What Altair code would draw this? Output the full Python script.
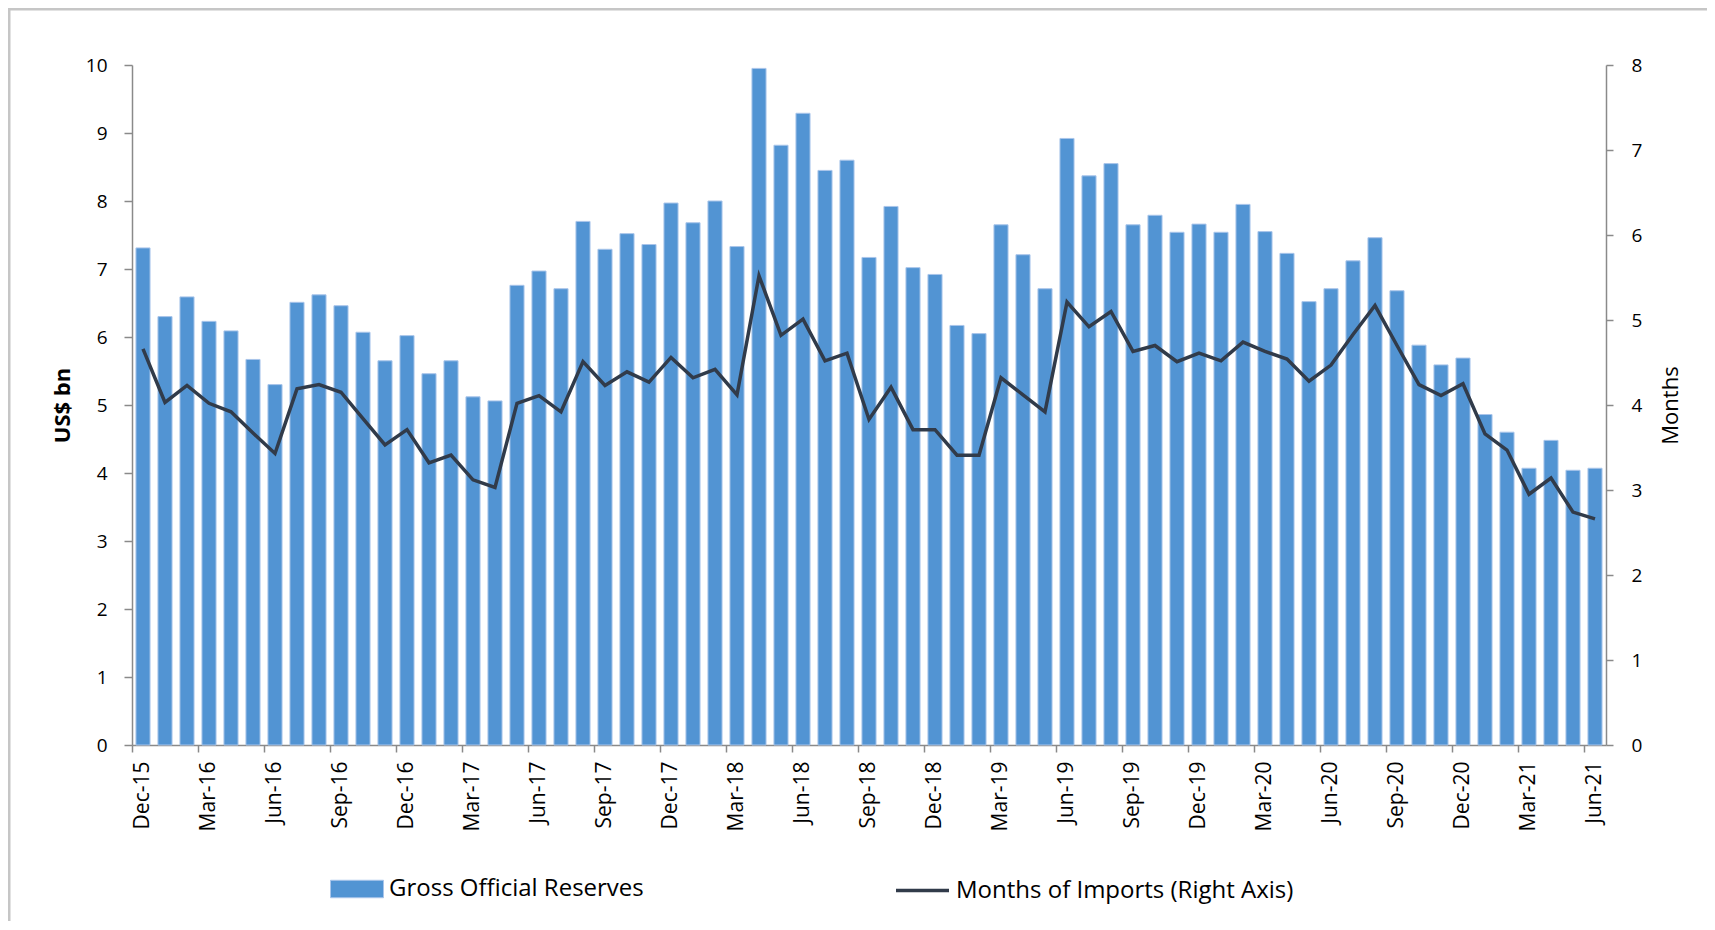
import altair as alt
import pandas as pd

MONTHS = [
    "Dec-15",
    "Jan-16", "Feb-16", "Mar-16", "Apr-16", "May-16", "Jun-16",
    "Jul-16", "Aug-16", "Sep-16", "Oct-16", "Nov-16", "Dec-16",
    "Jan-17", "Feb-17", "Mar-17", "Apr-17", "May-17", "Jun-17",
    "Jul-17", "Aug-17", "Sep-17", "Oct-17", "Nov-17", "Dec-17",
    "Jan-18", "Feb-18", "Mar-18", "Apr-18", "May-18", "Jun-18",
    "Jul-18", "Aug-18", "Sep-18", "Oct-18", "Nov-18", "Dec-18",
    "Jan-19", "Feb-19", "Mar-19", "Apr-19", "May-19", "Jun-19",
    "Jul-19", "Aug-19", "Sep-19", "Oct-19", "Nov-19", "Dec-19",
    "Jan-20", "Feb-20", "Mar-20", "Apr-20", "May-20", "Jun-20",
    "Jul-20", "Aug-20", "Sep-20", "Oct-20", "Nov-20", "Dec-20",
    "Jan-21", "Feb-21", "Mar-21", "Apr-21", "May-21", "Jun-21",
]

TICK_LABELS = [
    "Dec-15", "Mar-16", "Jun-16", "Sep-16", "Dec-16", "Mar-17", "Jun-17",
    "Sep-17", "Dec-17", "Mar-18", "Jun-18", "Sep-18", "Dec-18", "Mar-19",
    "Jun-19", "Sep-19", "Dec-19", "Mar-20", "Jun-20", "Sep-20", "Dec-20",
    "Mar-21", "Jun-21",
]

# Gross Official Reserves, US$ bn
RESERVES = [
    7.31,
    6.30, 6.59, 6.23, 6.09, 5.67, 5.30, 6.51, 6.62, 6.46, 6.07, 5.65, 6.02,
    5.46, 5.65, 5.12, 5.06, 6.76, 6.97, 6.71, 7.70, 7.29, 7.52, 7.36, 7.97,
    7.68, 8.00, 7.33, 9.95, 8.82, 9.29, 8.45, 8.60, 7.17, 7.92, 7.02, 6.92,
    6.17, 6.05, 7.65, 7.21, 6.71, 8.92, 8.37, 8.55, 7.65, 7.79, 7.54, 7.66,
    7.54, 7.95, 7.55, 7.23, 6.52, 6.71, 7.12, 7.46, 6.68, 5.88, 5.59, 5.69,
    4.86, 4.60, 4.07, 4.48, 4.04, 4.07,
]

# Months of imports (right axis)
IMPORT_MONTHS = [
    4.66,
    4.03, 4.23, 4.02, 3.92, 3.67, 3.43, 4.19, 4.24, 4.15, 3.84, 3.53, 3.71,
    3.32, 3.41, 3.12, 3.03, 4.02, 4.11, 3.92, 4.51, 4.23, 4.39, 4.27, 4.56,
    4.32, 4.42, 4.12, 5.52, 4.82, 5.01, 4.52, 4.61, 3.83, 4.21, 3.71, 3.71,
    3.41, 3.41, 4.32, 4.12, 3.92, 5.21, 4.92, 5.10, 4.63, 4.70, 4.51, 4.61,
    4.52, 4.74, 4.63, 4.54, 4.28, 4.47, 4.83, 5.17, 4.70, 4.24, 4.11, 4.25,
    3.66, 3.47, 2.95, 3.14, 2.74, 2.66,
]

BAR_SERIES = "Gross Official Reserves"
LINE_SERIES = "Months of Imports (Right Axis)"

df = pd.DataFrame({
    "month": MONTHS,
    "reserves": RESERVES,
    "imports": IMPORT_MONTHS,
    "bar_series": [BAR_SERIES] * len(MONTHS),
    "line_series": [LINE_SERIES] * len(MONTHS),
})

FONT = "Open Sans"
AXIS_GREY = "#8a8a8a"
BAR_FILL = "#5294d3"
BAR_EDGE = "#a9c5ea"
LINE_COLOR = "#313b4a"

W, H = 1474, 680

x_enc = alt.X(
    "month:N",
    sort=MONTHS,
    scale=alt.Scale(paddingInner=0, paddingOuter=0),
    axis=alt.Axis(
        values=TICK_LABELS,
        bandPosition=0,
        labelAngle=-90,
        labelPadding=9,
        labelFontSize=21,
        tickSize=7,
        title=None,
    ),
)

bars = alt.Chart(df).mark_bar(
    width=alt.RelativeBandSize(0.64), stroke=BAR_EDGE, strokeWidth=1
).encode(
    x=x_enc,
    y=alt.Y(
        "reserves:Q",
        scale=alt.Scale(domain=[0, 10], nice=False),
        axis=alt.Axis(
            values=list(range(0, 11)),
            title="US$ bn",
            titleFontWeight="bold",
            titleFontSize=22,
            titleX=-70,
            titleY=340,
            titleAngle=270,
            titleAlign="center",
            titleBaseline="middle",
            labelPadding=17,
            tickSize=8,
            grid=False,
        ),
    ),
    color=alt.Color(
        "bar_series:N",
        scale=alt.Scale(domain=[BAR_SERIES], range=[BAR_FILL]),
        legend=alt.Legend(
            title=None,
            orient="none",
            legendX=198,
            legendY=797,
            padding=0,
            symbolType="M-1,-0.33H1V0.33H-1Z",
            symbolSize=2809,
            symbolStrokeColor=BAR_EDGE,
            symbolStrokeWidth=1,
            labelFontSize=24,
            labelOffset=5,
            labelLimit=0,
        ),
    ),
)

line = alt.Chart(df).mark_line(strokeWidth=3.5, color=LINE_COLOR).encode(
    x=alt.X("month:N", sort=MONTHS),
    y=alt.Y(
        "imports:Q",
        scale=alt.Scale(domain=[0, 8], nice=False),
        axis=alt.Axis(
            orient="right",
            values=list(range(0, 9)),
            title="Months",
            titleFontWeight="normal",
            titleFontSize=22,
            titleX=64,
            titleY=340,
            titleAngle=270,
            titleAlign="center",
            titleBaseline="middle",
            labelPadding=18,
            tickSize=7,
            grid=False,
        ),
    ),
    stroke=alt.Stroke(
        "line_series:N",
        scale=alt.Scale(domain=[LINE_SERIES], range=[LINE_COLOR]),
        legend=alt.Legend(
            title=None,
            orient="none",
            legendX=762,
            legendY=797,
            padding=0,
            symbolType="stroke",
            symbolSize=2809,
            symbolStrokeWidth=3.5,
            labelFontSize=24,
            labelOffset=5,
            labelLimit=0,
        ),
    ),
)

frame = alt.Chart(pd.DataFrame({"k": [0]})).mark_rect(
    fillOpacity=0, stroke="#c6c6c6", strokeWidth=3
).encode(
    x=alt.value(-123),
    x2=alt.value(1720),
    y=alt.value(-56),
    y2=alt.value(1000),
)

chart = (
    alt.layer(frame, bars, line)
    .resolve_scale(y="independent", color="independent", stroke="independent")
    .properties(
        width=W,
        height=H,
        autosize=alt.AutoSizeParams(type="none"),
        padding={"left": 124, "top": 57, "right": 101, "bottom": 176},
    )
    .configure_view(stroke=None)
    .configure_axis(
        labelFont=FONT,
        titleFont=FONT,
        labelFontSize=19,
        labelColor="#000000",
        titleColor="#000000",
        domainColor=AXIS_GREY,
        tickColor=AXIS_GREY,
        domainWidth=1.5,
        tickWidth=1.5,
    )
    .configure_legend(labelFont=FONT, labelColor="#000000")
)

chart.save("out.html", embed_options={"renderer": "svg", "actions": False})
